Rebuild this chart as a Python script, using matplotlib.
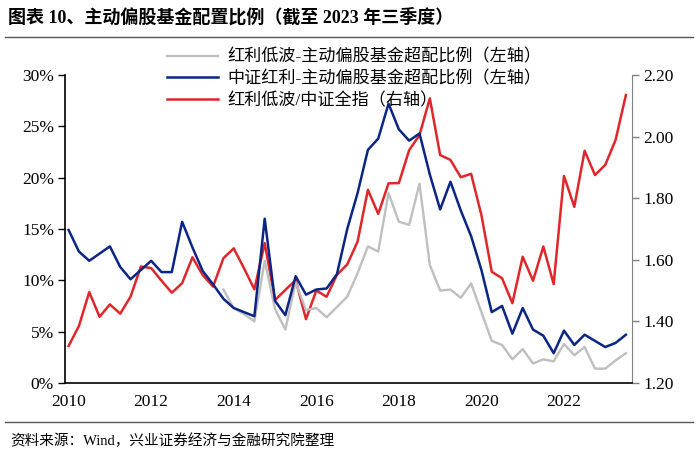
import numpy as np
import matplotlib
matplotlib.use('Agg')
import matplotlib.pyplot as plt
from matplotlib.ticker import FuncFormatter

plt.rcParams['font.family'] = ['Liberation Serif', 'Noto Sans CJK SC']

# quarterly data, 2010Q1 .. 2023Q3
quarters = 2010 + np.arange(55) / 4

# 中证红利-主动偏股基金超配比例 (%)
csi_div = [14.9, 12.8, 11.9, 12.6, 13.3, 11.3, 10.1, 11.0, 11.9, 10.8,
           10.8, 15.7, 13.2, 10.9, 9.6, 8.2, 7.3, 6.9, 6.5, 16.0,
           8.0, 6.6, 10.4, 8.6, 9.1, 9.2, 10.6, 15.0, 18.5, 22.7,
           23.8, 27.2, 24.7, 23.6, 24.3, 20.3, 16.9, 19.6, 16.8, 14.3,
           11.0, 6.9, 7.5, 4.8, 7.3, 5.2, 4.6, 2.9, 5.1, 3.7,
           4.7, 4.1, 3.5, 3.9, 4.7]

# 红利低波-主动偏股基金超配比例 (%), starts 2013Q4
lowvol = [np.nan] * 15 + [
    9.1, 7.3, 6.7, 6.0, 11.9, 7.2, 5.2, 9.8, 7.1, 7.3,
    6.4, 7.4, 8.4, 10.7, 13.3, 12.8, 18.5, 15.7, 15.4, 19.4,
    11.5, 9.0, 9.1, 8.3, 9.7, 6.9, 4.1, 3.7, 2.3, 3.3,
    1.9, 2.3, 2.1, 3.8, 2.7, 3.5, 1.4, 1.4, 2.2, 2.9]

# 红利低波/中证全指
ratio = [1.32, 1.385, 1.495, 1.415, 1.455, 1.425, 1.48, 1.578, 1.573, 1.532,
         1.493, 1.524, 1.608, 1.55, 1.513, 1.605, 1.637, 1.572, 1.504, 1.654,
         1.469, 1.502, 1.534, 1.407, 1.500, 1.480, 1.551, 1.585, 1.659, 1.827,
         1.749, 1.848, 1.849, 1.956, 2.005, 2.124, 1.940, 1.924, 1.868, 1.879,
         1.745, 1.561, 1.540, 1.459, 1.610, 1.532, 1.643, 1.521, 1.872, 1.772,
         1.954, 1.875, 1.908, 1.989, 2.135]

year_ticks = [2010, 2012, 2014, 2016, 2018, 2020, 2022]

fig = plt.figure(figsize=(7, 4.57), dpi=100)
ax = fig.add_axes([0.093, 0.162, 0.81, 0.674])
ax2 = ax.twinx()

l1, = ax.plot(quarters, lowvol, color='#BFBFBF', lw=1.7)
l2, = ax.plot(quarters, csi_div, color='#0B2585', lw=1.8)
l3, = ax2.plot(quarters, ratio, color='#E0262B', lw=1.8)

ax.set_xlim(2009.915, 2023.65)
ax.set_ylim(0, 30)
ax2.set_ylim(1.2, 2.2)
ax.set_yticks(range(0, 31, 5))
ax.yaxis.set_major_formatter(FuncFormatter(lambda v, p: '%d%%' % v))
ax2.set_yticks(np.arange(1.2, 2.21, 0.2))
ax2.yaxis.set_major_formatter(FuncFormatter(lambda v, p: '%.2f' % v))
ax.set_xticks(year_ticks)

for a in (ax, ax2):
    a.spines['top'].set_visible(False)
ax.spines['right'].set_visible(False)
ax2.spines['left'].set_visible(False)
ax2.spines['bottom'].set_visible(False)
ax2.spines['right'].set_color('#808080')
ax.spines['left'].set_linewidth(1.2)
ax.spines['bottom'].set_linewidth(1.2)

ax.tick_params(axis='y', labelsize=12.5, length=5, width=1.0, pad=3)
ax.tick_params(axis='x', labelsize=12.5, length=0, pad=8)
ax2.tick_params(axis='y', labelsize=12.5, length=5, width=1.0, color='#808080', pad=3)

leg = ax.legend([l1, l2, l3],
                ['红利低波-主动偏股基金超配比例（左轴）',
                 '中证红利-主动偏股基金超配比例（左轴）',
                 '红利低波/中证全指（右轴）'],
                loc='upper left', bbox_to_anchor=(0.168, 1.105),
                frameon=False, fontsize=12.3, handlelength=3.0,
                handletextpad=0.5, labelspacing=0.32, borderaxespad=0)
ax.set_zorder(ax2.get_zorder() + 1)
ax.patch.set_visible(False)

fig.text(0.012, 0.962, '图表 10、主动偏股基金配置比例（截至 2023 年三季度）',
         fontsize=13, fontweight='bold', va='center', ha='left')
fig.add_artist(plt.Line2D([0.007, 0.99], [0.918, 0.918], color='#555555', lw=1.0))
fig.add_artist(plt.Line2D([0.007, 0.99], [0.077, 0.077], color='#555555', lw=1.0))
fig.text(0.014, 0.035, '资料来源：Wind，兴业证券经济与金融研究院整理',
         fontsize=10.5, va='center', ha='left')

fig.savefig('out.png', dpi=100)
